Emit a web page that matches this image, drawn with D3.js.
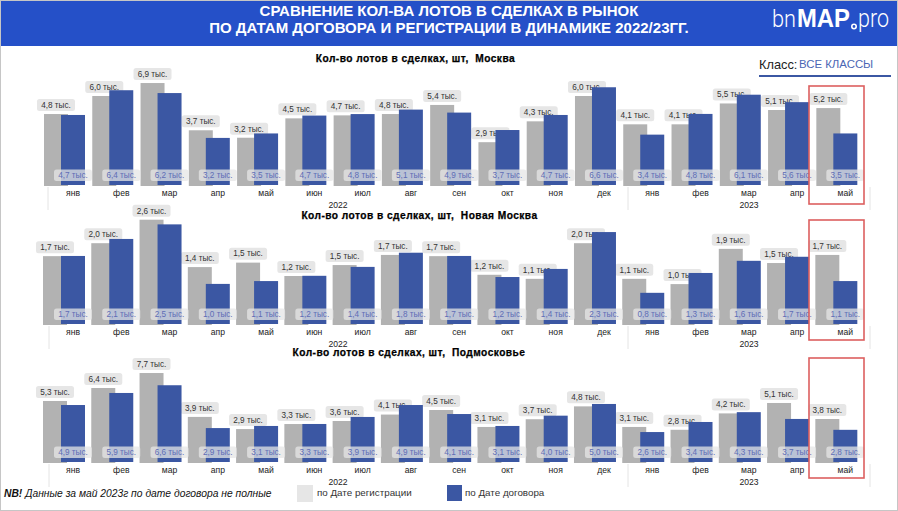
<!DOCTYPE html>
<html><head><meta charset="utf-8">
<script src="https://cdn.jsdelivr.net/npm/d3@7/dist/d3.min.js"></script>
<style>html,body{margin:0;padding:0;background:#fff}svg{display:block}text{font-family:"Liberation Sans",Arial,sans-serif}</style>
</head><body><svg id="c" width="898" height="511"></svg>
<script>
const months=["янв","фев","мар","апр","май","июн","июл","авг","сен","окт","ноя","дек","янв","фев","мар","апр","май"];
const moscowReg=[4.83,6.04,6.91,3.74,3.24,4.54,4.74,4.83,5.44,2.94,4.34,6.04,4.14,4.14,5.54,5.1,5.23];
const moscowDog=[4.7,6.36,6.17,3.16,3.46,4.66,4.76,5.06,4.86,3.69,4.7,6.56,3.38,4.77,6.06,5.56,3.46];
const newMoscowReg=[1.7,2.02,2.6,1.43,1.54,1.21,1.48,1.73,1.7,1.24,1.14,2.02,1.14,1.01,1.88,1.53,1.73];
const newMoscowDog=[1.68,2.1,2.46,0.99,1.06,1.19,1.41,1.76,1.68,1.16,1.36,2.27,0.77,1.26,1.56,1.66,1.06];
const oblastReg=[5.3,6.41,7.69,3.94,2.9,3.33,3.59,4.14,4.53,3.08,3.74,4.84,3.08,2.84,4.24,5.13,3.76];
const oblastDog=[4.87,5.9,6.56,2.9,3.08,3.25,3.85,4.87,4.1,3.08,3.96,4.96,2.56,3.42,4.26,3.68,2.75];
const titleLines=["СРАВНЕНИЕ КОЛ-ВА ЛОТОВ В СДЕЛКАХ В РЫНОК","ПО ДАТАМ ДОГОВОРА И РЕГИСТРАЦИИ В ДИНАМИКЕ 2022/23ГГ."];
const panelTitles=["Кол-во лотов в сделках, шт,  Москва","Кол-во лотов в сделках, шт,  Новая Москва","Кол-во лотов в сделках, шт,  Подмосковье"];

const GRAY="#b2b2b2",BLUE="#3b57a3",CHIP="#e6e6e6",RED="#dc5f5f";
const svg=d3.select("#c");
const fmt=v=>d3.format(".1f")(v).replace(".",",")+" тыс.";

svg.append("rect").attr("width",898).attr("height",511).attr("fill","#fff");
svg.append("rect").attr("x",.5).attr("y",.5).attr("width",897).attr("height",510).attr("fill","none").attr("stroke","#c6c6c6");
svg.append("rect").attr("x",1).attr("y",1).attr("width",896).attr("height",45).attr("fill","#2550c8");
titleLines.forEach((t,i)=>svg.append("text").attr("x",449).attr("y",16+i*17).attr("text-anchor","middle")
  .attr("fill","#fff").attr("font-size",15).attr("font-weight",700).text(t));

// logo
const logoPart=(t,x0,len,weight,fam,size)=>svg.append("text").attr("x",x0).attr("y",27).attr("fill","#fff")
  .attr("font-size",size).attr("font-weight",weight).style("font-family",fam)
  .attr("textLength",len).attr("lengthAdjust","spacingAndGlyphs").text(t);
logoPart("bn",772,24,300,"Roboto",23);
logoPart("MAP",797,53,700,"'Liberation Sans'",26);
logoPart("pro",858,31,300,"Roboto",26);
svg.append("circle").attr("cx",854).attr("cy",26.5).attr("r",2.2).attr("fill","none").attr("stroke","#fff").attr("stroke-width",1.6);

// class selector
svg.append("text").attr("x",759).attr("y",68.5).attr("font-size",12.8).attr("fill","#222").text("Класс:");
svg.append("text").attr("x",799).attr("y",68).attr("font-size",11.4).attr("fill","#4b66b4").text("ВСЕ КЛАССЫ");
svg.append("rect").attr("x",759).attr("y",75).attr("width",132).attr("height",2).attr("fill",BLUE);

const panels=[
 {reg:moscowReg,dog:moscowDog,title:panelTitles[0],tx:415.5,ty:61.5,base:186,k:14.9,dx:0,sep:48,red:[86,204]},
 {reg:newMoscowReg,dog:newMoscowDog,title:panelTitles[1],tx:419.5,ty:218.5,base:325,k:40.5,dx:-1,sep:49,red:[220,340]},
 {reg:oblastReg,dog:oblastDog,title:panelTitles[2],tx:409,ty:355.5,base:463,k:11.7,dx:-1,sep:49,red:[358,478]}
];
const x=d3.scaleBand().domain(d3.range(months.length)).range([44,44+48.27*16+24]).paddingInner(.503).paddingOuter(0);
const bw=x.bandwidth();

panels.forEach(p=>{
  const g=svg.append("g");
  const y=d3.scaleLinear().domain([0,1]).range([p.base,p.base-p.k]);
  const gx=i=>x(i)+p.dx, bx=i=>x(i)+17;

  g.append("text").attr("x",p.tx).attr("y",p.ty).attr("text-anchor","middle").attr("font-size",10.2)
    .attr("font-weight",700).attr("fill","#000").attr("stroke","#000").attr("stroke-width",.25)
    .attr("letter-spacing",.45).style("white-space","pre").text(p.title);

  g.selectAll(".rb").data(p.reg).join("rect").attr("x",(d,i)=>gx(i)).attr("y",d=>y(d)).attr("width",bw)
    .attr("height",d=>p.base-y(d)).attr("fill",GRAY);
  g.selectAll(".rc").data(p.reg).join("rect").attr("x",(d,i)=>gx(i)+bw/2-19).attr("y",d=>y(d)-15).attr("width",38)
    .attr("height",12).attr("rx",2.5).attr("fill",CHIP);
  g.selectAll(".rt").data(p.reg).join("text").attr("x",(d,i)=>gx(i)+bw/2).attr("y",d=>y(d)-6.2)
    .attr("text-anchor","middle").attr("font-size",8.2).attr("fill","#333").text(fmt);

  g.selectAll(".bb").data(p.dog).join("rect").attr("x",(d,i)=>bx(i)).attr("y",d=>y(d)-1).attr("width",bw)
    .attr("height",d=>p.base-y(d)).attr("fill",BLUE);
  g.selectAll(".bc").data(p.dog).join("rect").attr("x",(d,i)=>bx(i)+bw/2-19).attr("y",p.base-16.5).attr("width",38)
    .attr("height",11.5).attr("rx",2.5).attr("fill",CHIP).attr("fill-opacity",.75);
  g.selectAll(".bt").data(p.dog).join("text").attr("x",(d,i)=>bx(i)+bw/2).attr("y",p.base-8)
    .attr("text-anchor","middle").attr("font-size",8.2).attr("fill","#5f6db5").text(fmt);

  // month axis
  const ax=d3.axisBottom(d3.scaleBand().domain(d3.range(months.length)).range(x.range()).paddingInner(.503))
    .tickSize(0).tickPadding(0).tickFormat(i=>months[i]);
  const ag=g.append("g").attr("transform",`translate(17,${p.base+4})`).call(ax);
  ag.select(".domain").remove();
  ag.selectAll("text").attr("font-size",8.6).attr("fill","#222").style("font-family","'Liberation Sans'");

  [[338,"2022"],[749,"2023"]].forEach(([tx,t])=>g.append("text").attr("x",tx).attr("y",p.base+21.5)
     .attr("text-anchor","middle").attr("font-size",8.6).attr("fill","#222").text(t));
  [p.sep,628,870].forEach(sx=>g.append("line").attr("x1",sx).attr("x2",sx).attr("y1",p.base+1).attr("y2",p.base+24)
     .attr("stroke","#e4e4e4").attr("stroke-width",1));
  g.append("rect").attr("x",809).attr("y",p.red[0]).attr("width",55).attr("height",p.red[1]-p.red[0])
     .attr("fill","none").attr("stroke",RED).attr("stroke-width",1.6);
});

// note
const nb=svg.append("text").attr("x",4).attr("y",496.5).attr("font-size",10.3).attr("font-style","italic").attr("fill","#111");
nb.append("tspan").attr("font-weight",700).text("NB!");
nb.append("tspan").text(" Данные за май 2023г по дате договора не полные");
// legend
svg.append("rect").attr("x",297).attr("y",485).attr("width",16).attr("height",17).attr("fill",CHIP);
svg.append("text").attr("x",317).attr("y",496).attr("font-size",9.8).attr("fill","#333").text("по Дате регистрации");
svg.append("rect").attr("x",447).attr("y",485).attr("width",15).attr("height",16).attr("fill",BLUE);
svg.append("text").attr("x",465).attr("y",496).attr("font-size",9.8).attr("fill","#333").text("по Дате договора");
</script></body></html>
